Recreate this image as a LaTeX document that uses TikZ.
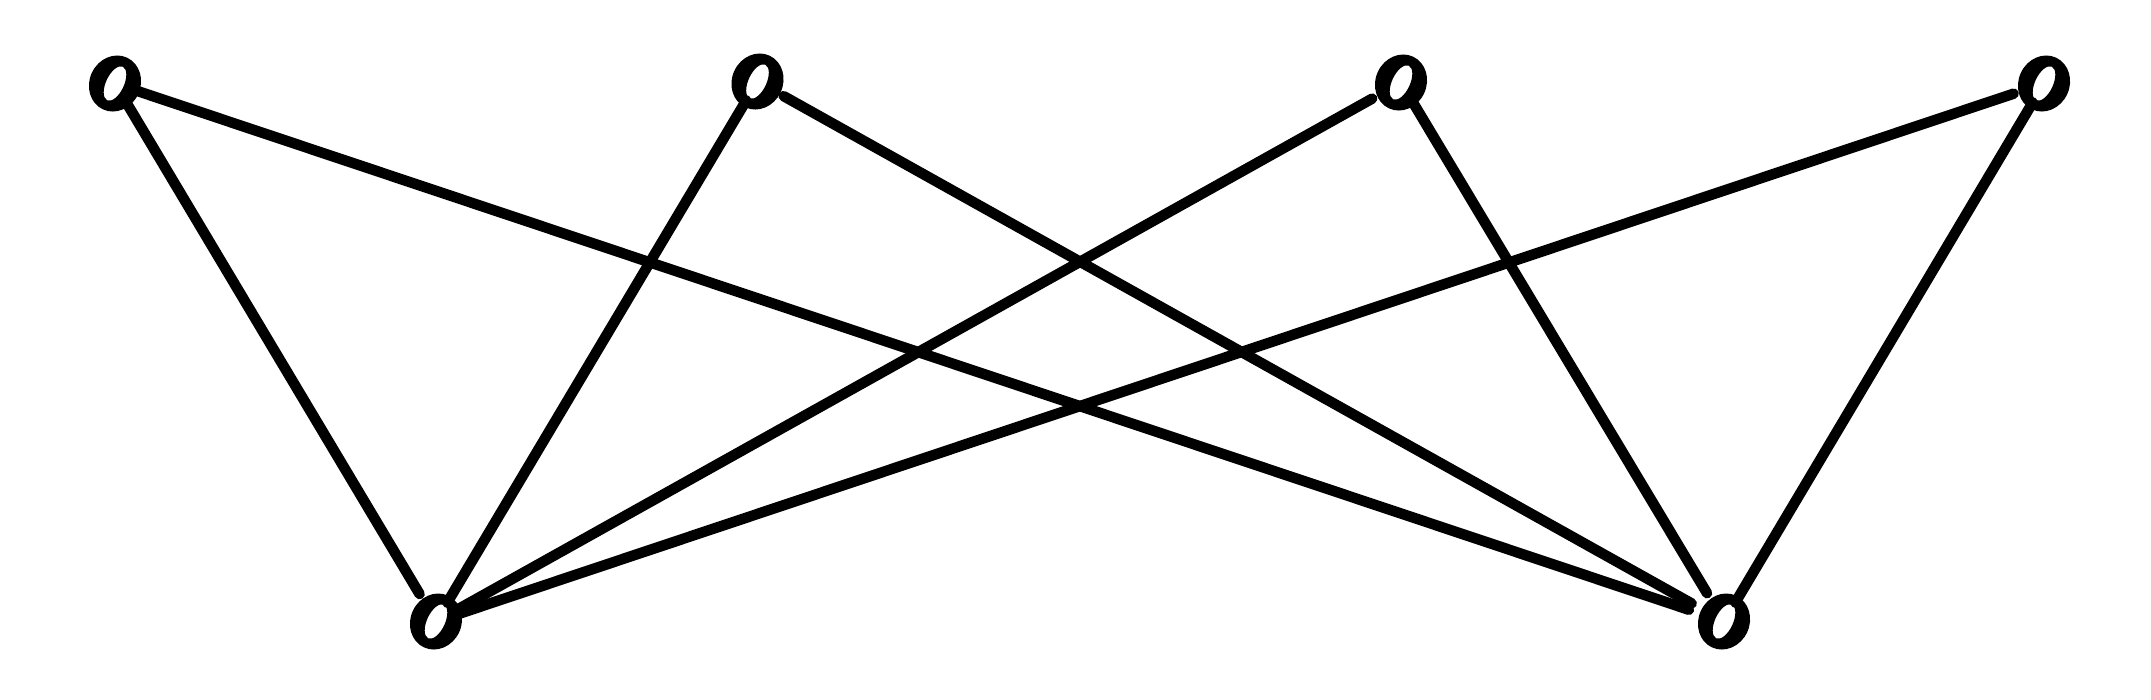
\documentclass[tikz,border=0pt]{standalone}
\usetikzlibrary{calc}
\begin{document}
\begin{tikzpicture}[x=0.01cm,y=-0.01cm,
  edge/.style={line width=0.105cm, line cap=round, line join=round},
  vtx/.pic={\fill[even odd rule, rotate=65] (0,0) ellipse [x radius=0.285cm, y radius=0.255cm]
                                            (0,0) ellipse [x radius=0.185cm, y radius=0.09cm];}]
\useasboundingbox (0,0) rectangle (2151,699);
\coordinate (t1) at (115,83.5);
\coordinate (t2) at (757.5,81.5);
\coordinate (t3) at (1401,82.5);
\coordinate (t4) at (2044,83.5);
\coordinate (b1) at (436,621.5);
\coordinate (b2) at (1724,621.5);
\foreach \n in {t1,t2,t3,t4,b1,b2} {\pic at (\n) {vtx};}
\draw[edge] ($(t1)!0.22cm!(b1)$) -- ($(b1)!0.32cm!(t1)$);
\draw[edge] ($(t1)!0.22cm!(b2)$) -- ($(b2)!0.37cm!(t1)$);
\draw[edge] ($(t2)!0.22cm!(b1)$) -- ($(b1)!0.22cm!(t2)$);
\draw[edge] ($(t2)!0.30cm!(b2)$) -- ($(b2)!0.37cm!(t2)$);
\draw[edge] ($(t3)!0.33cm!(b1)$) -- ($(b1)!0.22cm!(t3)$);
\draw[edge] ($(t3)!0.22cm!(b2)$) -- ($(b2)!0.33cm!(t3)$);
\draw[edge] ($(t4)!0.32cm!(b1)$) -- ($(b1)!0.22cm!(t4)$);
\draw[edge] ($(t4)!0.22cm!(b2)$) -- ($(b2)!0.22cm!(t4)$);
\end{tikzpicture}
\end{document}
